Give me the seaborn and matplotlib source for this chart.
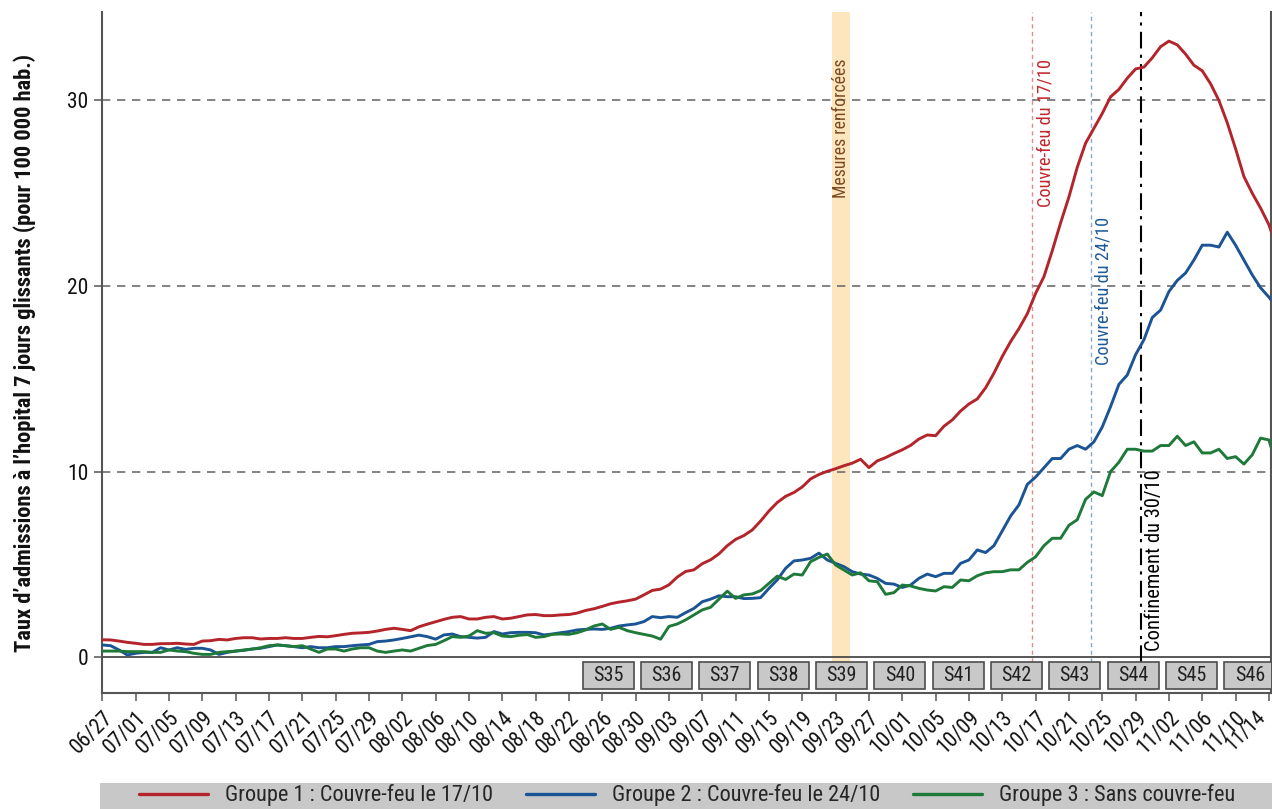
import numpy as np
import pandas as pd
import matplotlib
matplotlib.use("Agg")
import matplotlib.pyplot as plt
import matplotlib.transforms as mtransforms
import seaborn as sns
from matplotlib import font_manager
from matplotlib.patches import Rectangle
from matplotlib.lines import Line2D

# ---------------- data ----------------
start_date = "2020-06-27"

groupe1 = [0.93, 0.92, 0.86, 0.79, 0.74, 0.68, 0.68, 0.72, 0.72, 0.74,
           0.70, 0.68, 0.86, 0.88, 0.95, 0.92, 1.00, 1.04, 1.04, 0.97,
           1.00, 1.00, 1.04, 1.00, 1.00, 1.06, 1.11, 1.09, 1.15, 1.22,
           1.28, 1.30, 1.33, 1.40, 1.49, 1.55, 1.49, 1.42, 1.63, 1.77,
           1.90, 2.03, 2.14, 2.18, 2.05, 2.05, 2.14, 2.18, 2.05, 2.09,
           2.18, 2.27, 2.29, 2.23, 2.23, 2.27, 2.29, 2.37, 2.51, 2.60,
           2.73, 2.87, 2.96, 3.03, 3.12, 3.35, 3.59, 3.66, 3.89, 4.31,
           4.61, 4.70, 5.03, 5.24, 5.56, 6.00, 6.34, 6.55, 6.85, 7.33,
           7.87, 8.33, 8.66, 8.87, 9.17, 9.60, 9.84, 10.01, 10.15, 10.31,
           10.45, 10.66, 10.21, 10.57, 10.75, 10.97, 11.17, 11.41, 11.75, 11.97,
           11.93, 12.44, 12.78, 13.26, 13.64, 13.91, 14.51, 15.3, 16.2, 17.0,
           17.7, 18.5, 19.6, 20.5, 21.9, 23.4, 24.8, 26.4, 27.7, 28.5,
           29.3, 30.2, 30.6, 31.2, 31.7, 31.8, 32.3, 32.9, 33.2, 33.0,
           32.5, 31.9, 31.6, 30.9, 30.0, 28.8, 27.4, 25.9, 25.0, 24.2,
           23.3, 22.0]

groupe2 = [0.65, 0.61, 0.38, 0.11, 0.20, 0.25, 0.25, 0.50, 0.38, 0.50,
           0.41, 0.47, 0.47, 0.38, 0.14, 0.25, 0.32, 0.36, 0.43, 0.47,
           0.56, 0.65, 0.61, 0.56, 0.50, 0.56, 0.50, 0.50, 0.56, 0.56,
           0.61, 0.65, 0.68, 0.83, 0.86, 0.92, 1.00, 1.09, 1.18, 1.10,
           0.96, 1.19, 1.24, 1.10, 1.06, 1.02, 1.06, 1.37, 1.24, 1.31,
           1.33, 1.33, 1.31, 1.19, 1.24, 1.31, 1.37, 1.46, 1.49, 1.51,
           1.49, 1.55, 1.67, 1.73, 1.78, 1.91, 2.18, 2.12, 2.18, 2.14,
           2.39, 2.62, 2.98, 3.12, 3.30, 3.25, 3.25, 3.15, 3.16, 3.20,
           3.70, 4.16, 4.78, 5.18, 5.23, 5.32, 5.60, 5.23, 5.05, 4.87,
           4.60, 4.47, 4.42, 4.24, 3.97, 3.93, 3.75, 3.88, 4.24, 4.47,
           4.33, 4.51, 4.51, 5.05, 5.23, 5.77, 5.63, 6.0, 6.8, 7.6,
           8.2, 9.3, 9.7, 10.2, 10.7, 10.7, 11.2, 11.4, 11.2, 11.6,
           12.4, 13.5, 14.7, 15.2, 16.3, 17.1, 18.3, 18.7, 19.7, 20.3,
           20.7, 21.4, 22.2, 22.2, 22.1, 22.9, 22.2, 21.4, 20.6, 19.9,
           19.4, 18.8]

groupe3 = [0.32, 0.32, 0.32, 0.29, 0.29, 0.29, 0.25, 0.25, 0.38, 0.32,
           0.29, 0.20, 0.14, 0.14, 0.25, 0.29, 0.32, 0.38, 0.43, 0.50,
           0.61, 0.65, 0.61, 0.56, 0.61, 0.43, 0.25, 0.43, 0.43, 0.32,
           0.43, 0.50, 0.50, 0.32, 0.25, 0.32, 0.38, 0.32, 0.47, 0.62,
           0.68, 0.88, 1.10, 1.06, 1.13, 1.42, 1.28, 1.31, 1.13, 1.10,
           1.17, 1.21, 1.06, 1.10, 1.22, 1.24, 1.22, 1.31, 1.46, 1.67,
           1.78, 1.49, 1.60, 1.42, 1.31, 1.22, 1.13, 0.96, 1.65, 1.78,
           2.00, 2.27, 2.54, 2.68, 3.12, 3.55, 3.16, 3.35, 3.40, 3.58,
           3.97, 4.36, 4.18, 4.47, 4.42, 5.14, 5.37, 5.55, 4.96, 4.69,
           4.42, 4.54, 4.11, 4.06, 3.38, 3.47, 3.88, 3.83, 3.70, 3.61,
           3.56, 3.79, 3.75, 4.15, 4.11, 4.38, 4.54, 4.6, 4.6, 4.7,
           4.7, 5.1, 5.4, 6.0, 6.4, 6.4, 7.1, 7.4, 8.5, 8.9,
           8.7, 10.0, 10.5, 11.2, 11.2, 11.1, 11.1, 11.4, 11.4, 11.9,
           11.4, 11.6, 11.0, 11.0, 11.2, 10.7, 10.8, 10.4, 10.9, 11.8,
           11.7, 10.2]

group_labels = ["Groupe 1 : Couvre-feu le 17/10",
                "Groupe 2 : Couvre-feu le 24/10",
                "Groupe 3 : Sans couvre-feu"]
group_colors = ["#b3242b", "#1b5495", "#1f7a3a"]

tick_labels = ["06/27", "07/01", "07/05", "07/09", "07/13", "07/17", "07/21",
               "07/25", "07/29", "08/02", "08/06", "08/10", "08/14", "08/18",
               "08/22", "08/26", "08/30", "09/03", "09/07", "09/11", "09/15",
               "09/19", "09/23", "09/27", "10/01", "10/05", "10/09", "10/13",
               "10/17", "10/21", "10/25", "10/29", "11/02", "11/06", "11/10",
               "11/14"]

week_labels = ["S35", "S36", "S37", "S38", "S39", "S40", "S41", "S42",
               "S43", "S44", "S45", "S46"]
week_mondays = ["2020-08-24", "2020-08-31", "2020-09-07", "2020-09-14",
                "2020-09-21", "2020-09-28", "2020-10-05", "2020-10-12",
                "2020-10-19", "2020-10-26", "2020-11-02", "2020-11-09"]

band_dates = ["2020-09-23", "2020-09-25"]
band_label = "Mesures renforcées"
event_dates = ["2020-10-17", "2020-10-24", "2020-10-30"]
event_labels = ["Couvre-feu du 17/10", "Couvre-feu du 24/10", "Confinement du 30/10"]

y_ticks = [0, 10, 20, 30]
y_label = "Taux d’admissions à l’hopital 7 jours glissants (pour 100 000 hab.)"

# ---------------- style ----------------
sns.set_style("white")
names = {f.name for f in font_manager.fontManager.ttflist}
fam = next((n for n in ["Liberation Sans Narrow", "Roboto Condensed",
                        "Open Sans Condensed", "Liberation Sans"] if n in names),
           "DejaVu Sans")
narrow = "Narrow" in fam or "Condensed" in fam
plt.rcParams["font.family"] = [fam, "DejaVu Sans"]
k = 1.0 if narrow else 0.86

t0 = pd.Timestamp(start_date)
def day(s):
    return (pd.Timestamp(s) - t0).days

n = len(groupe1)
df = pd.DataFrame({
    "jour": list(range(n)) * 3,
    "taux": groupe1 + groupe2 + groupe3,
    "groupe": [group_labels[0]] * n + [group_labels[1]] * n + [group_labels[2]] * n,
})

W, H = 1272, 809
fig = plt.figure(figsize=(W / 100, H / 100), dpi=100)
ax = fig.add_axes([102.3 / W, 1 - 693 / H, (1271 - 102.3) / W, (693 - 12) / H])

ymin, ymax = -1.94, 34.77

# band
b0, b1 = day(band_dates[0]) - 0.4, day(band_dates[1]) - 0.3
ax.fill_between([b0, b1], -0.25, ymax, color="#fde6bd", lw=0, zorder=1)
ax.text((b0 + b1) / 2, 32.25, band_label, rotation=90, ha="center", va="top",
        color="#7a4b22", fontsize=12.7 * k, zorder=6)

# grid
for yv in y_ticks[1:]:
    ax.axhline(yv, color="#6e6e6e", lw=1.2, ls=(0, (5, 4)), zorder=2)
ax.axhline(0, color="#4a4a4a", lw=1.3, zorder=2)

# event lines
ev_styles = [dict(color="#e08a8a", lw=1.0, ls=(0, (3, 2.5))),
             dict(color="#88a6cf", lw=1.0, ls=(0, (3, 2.5))),
             dict(color="black", lw=1.5, ls=(0, (8, 3, 1.5, 3)))]
ev_text_colors = ["#c0272d", "#1f5a9a", "black"]
ev_text_y = [(32.25, "top"), (23.7, "top"), (0.3, "bottom")]
ev_text_size = [13.2, 13.2, 14.8]
for d, lab, st, tc, (ty, va), fs in zip(event_dates, event_labels, ev_styles,
                                         ev_text_colors, ev_text_y, ev_text_size):
    xd = day(d) - 0.4
    ax.plot([xd, xd], [-0.25, ymax], zorder=3, **st)
    ax.text(xd + 0.5, ty, lab, rotation=90, ha="left", va=va, color=tc,
            fontsize=fs * k, zorder=6)

# lines
sns.lineplot(data=df, x="jour", y="taux", hue="groupe", hue_order=group_labels,
             palette=group_colors, linewidth=2.1, ax=ax, legend=False, zorder=5)

# week boxes
for lab, mon in zip(week_labels, week_mondays):
    m = day(mon)
    ax.add_patch(Rectangle((m - 0.35, -1.72), 6.1, 1.47, facecolor="#c8c8c8",
                           edgecolor="#4d4d4d", lw=1.2, zorder=4))
    ax.text(m - 0.35 + 3.05, -0.985, lab, ha="center", va="center",
            fontsize=14.5 * k, color="#222222", zorder=6)

# axes
ax.set_xlim(0, 140.25)
ax.set_ylim(ymin, ymax)
ax.set_xticks(list(range(0, 4 * len(tick_labels), 4)))
ax.set_xticklabels(tick_labels, rotation=45, ha="right", va="top",
                   rotation_mode="anchor", fontsize=15.5 * k, color="#111111")
ax.set_yticks(y_ticks)
ax.set_yticklabels([str(v) for v in y_ticks], fontsize=15.5 * k, color="#111111")
ax.tick_params(axis="both", direction="out", length=6, width=1.1,
               color="#555555", pad=4, left=True, bottom=True)
ax.set_xlabel("")
ax.set_ylabel(y_label, fontsize=16.2 * k, fontweight="bold", labelpad=22,
              color="#111111")
ax.spines["top"].set_visible(False)
for s in ["left", "right", "bottom"]:
    ax.spines[s].set_color("#555555")
    ax.spines[s].set_linewidth(1.5)

# legend band + legend
fig.patches.append(Rectangle((100 / W, 0), 1172 / W, 26 / H, transform=fig.transFigure,
                             facecolor="#c8c8c8", edgecolor="none", zorder=0))
handles = [Line2D([], [], color=c, lw=2.4) for c in group_colors]
leg = fig.legend(handles, group_labels, loc="center",
                 bbox_to_anchor=(687 / W, 13.5 / H),
                 ncol=3, frameon=False, handlelength=3.1, handletextpad=0.75,
                 fontsize=16 * k, borderpad=0, borderaxespad=0, columnspacing=1.5)

# keep the last date label inside the figure (after tick_params so it sticks)
fig.canvas.draw()
last_tick = ax.xaxis.get_major_ticks()[-1]
last_tick.label1.set_fontsize(14.5 * k)
last_tick.label1.set_transform(last_tick.label1.get_transform() +
                               mtransforms.ScaledTranslation(-13 / 100, 0,
                                                             fig.dpi_scale_trans))

fig.savefig("out.png", dpi=100)
